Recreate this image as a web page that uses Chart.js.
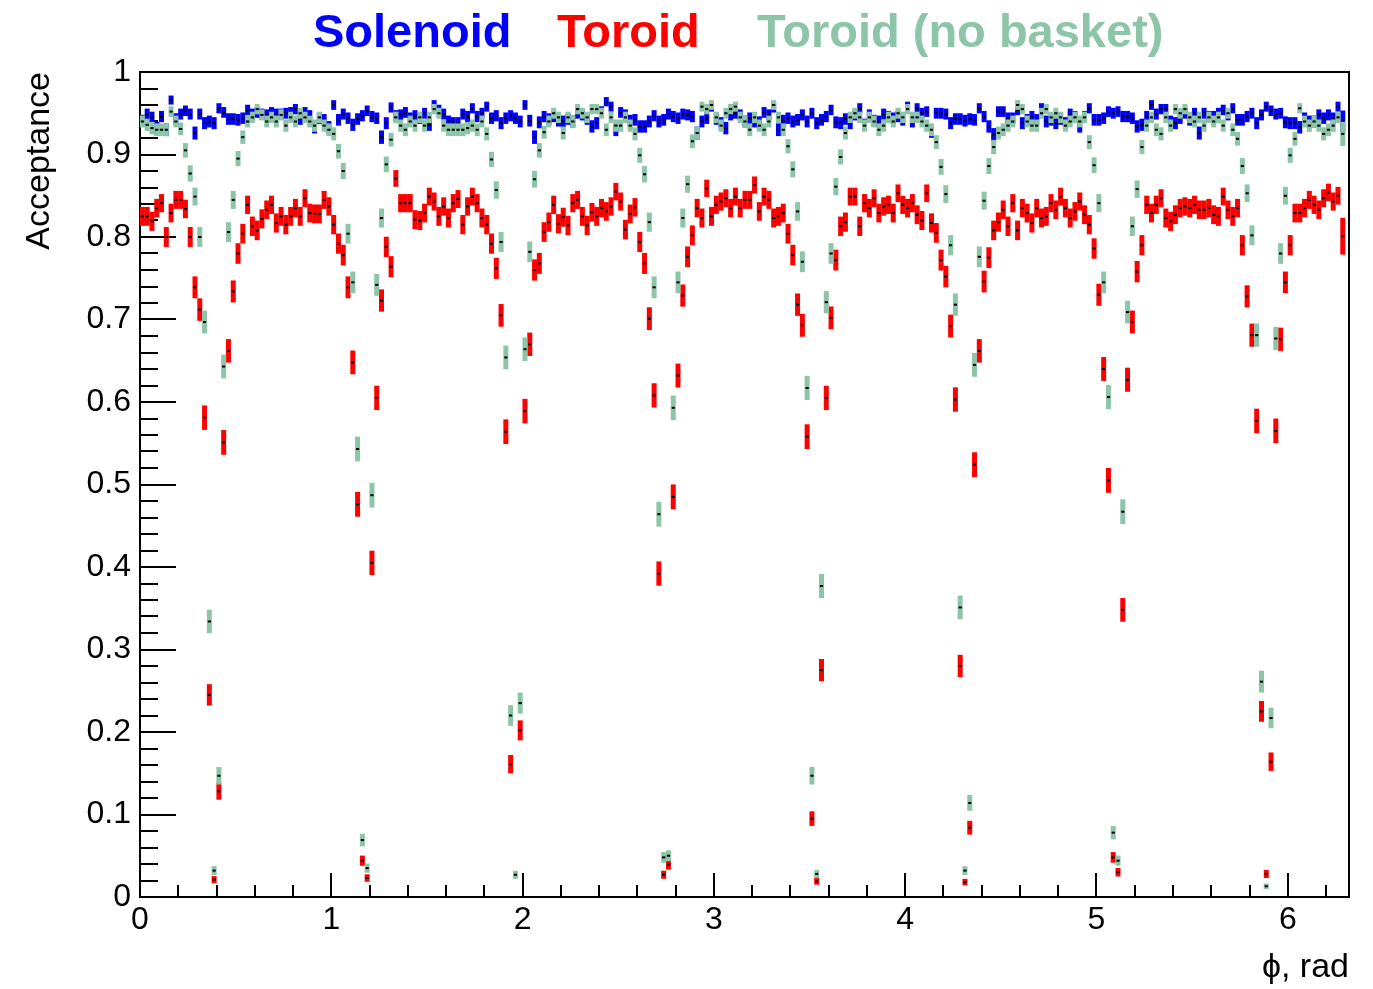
<!DOCTYPE html>
<html>
<head>
<meta charset="utf-8">
<title>Acceptance</title>
<script src="https://cdn.jsdelivr.net/npm/chart.js@4.4.1/dist/chart.umd.min.js"></script>
<style>
	html, body { margin: 0; padding: 0; background: #fff; }
	#caixa { width: 1373px; height: 989px; }
</style>
</head>
<body>
<div id="caixa"><canvas id="grafico"></canvas></div>
<script>
// phi bins, 0.025 rad wide starting at 0
larguraBin = 0.025
eventosPorBin = 1100
eventosUltimoBin = 320

solenoid = [
	0.941, 0.949, 0.945, 0.932, 0.946, 0.930, 0.966, 0.943, 0.949, 0.953,
	0.949, 0.926, 0.949, 0.938, 0.940, 0.938, 0.956, 0.951, 0.943, 0.943,
	0.942, 0.944, 0.954, 0.949, 0.951, 0.949, 0.948, 0.951, 0.949, 0.949,
	0.950, 0.951, 0.955, 0.943, 0.951, 0.947, 0.933, 0.944, 0.942, 0.933,
	0.960, 0.942, 0.949, 0.944, 0.936, 0.943, 0.947, 0.953, 0.946, 0.944,
	0.921, 0.938, 0.957, 0.947, 0.948, 0.951, 0.944, 0.947, 0.944, 0.950,
	0.936, 0.960, 0.954, 0.949, 0.940, 0.938, 0.938, 0.949, 0.946, 0.956,
	0.946, 0.950, 0.958, 0.944, 0.947, 0.938, 0.944, 0.947, 0.944, 0.940,
	0.960, 0.941, 0.921, 0.939, 0.946, 0.943, 0.946, 0.941, 0.940, 0.943,
	0.940, 0.950, 0.948, 0.943, 0.934, 0.938, 0.952, 0.964, 0.958, 0.930,
	0.951, 0.948, 0.941, 0.942, 0.934, 0.934, 0.940, 0.947, 0.940, 0.942,
	0.949, 0.946, 0.944, 0.949, 0.948, 0.946, 0.926, 0.940, 0.944, 0.958,
	0.943, 0.938, 0.932, 0.948, 0.950, 0.948, 0.940, 0.944, 0.940, 0.939,
	0.951, 0.948, 0.957, 0.930, 0.941, 0.944, 0.940, 0.942, 0.948, 0.940,
	0.950, 0.938, 0.942, 0.946, 0.954, 0.939, 0.938, 0.943, 0.938, 0.948,
	0.956, 0.936, 0.948, 0.941, 0.940, 0.949, 0.946, 0.944, 0.946, 0.942,
	0.958, 0.940, 0.956, 0.950, 0.952, 0.928, 0.950, 0.950, 0.949, 0.938,
	0.943, 0.943, 0.941, 0.943, 0.942, 0.956, 0.946, 0.934, 0.924, 0.952,
	0.952, 0.944, 0.944, 0.954, 0.938, 0.942, 0.946, 0.942, 0.956, 0.940,
	0.942, 0.938, 0.943, 0.938, 0.949, 0.946, 0.934, 0.946, 0.956, 0.942,
	0.942, 0.944, 0.952, 0.950, 0.952, 0.946, 0.946, 0.944, 0.934, 0.936,
	0.946, 0.960, 0.949, 0.955, 0.955, 0.940, 0.938, 0.944, 0.950, 0.942,
	0.950, 0.926, 0.950, 0.946, 0.946, 0.950, 0.954, 0.948, 0.956, 0.942,
	0.942, 0.946, 0.950, 0.938, 0.948, 0.958, 0.953, 0.949, 0.950, 0.939,
	0.938, 0.938, 0.933, 0.944, 0.940, 0.940, 0.948, 0.944, 0.948, 0.944,
	0.958, 0.940
]

toroid = [
	0.825, 0.825, 0.819, 0.835, 0.841, 0.800, 0.829, 0.845, 0.845, 0.834,
	0.800, 0.739, 0.712, 0.581, 0.245, 0.021, 0.128, 0.551, 0.662, 0.734,
	0.780, 0.804, 0.839, 0.813, 0.808, 0.822, 0.833, 0.839, 0.817, 0.825,
	0.815, 0.825, 0.835, 0.825, 0.847, 0.829, 0.828, 0.828, 0.845, 0.837,
	0.815, 0.792, 0.778, 0.739, 0.648, 0.476, 0.044, 0.023, 0.405, 0.605,
	0.723, 0.788, 0.764, 0.871, 0.841, 0.841, 0.841, 0.821, 0.820, 0.829,
	0.849, 0.843, 0.825, 0.837, 0.823, 0.841, 0.846, 0.815, 0.837, 0.849,
	0.841, 0.823, 0.815, 0.792, 0.762, 0.705, 0.564, 0.161, 0.000, 0.202,
	0.589, 0.670, 0.760, 0.768, 0.806, 0.818, 0.839, 0.816, 0.824, 0.814,
	0.841, 0.845, 0.825, 0.814, 0.830, 0.825, 0.835, 0.831, 0.837, 0.855,
	0.843, 0.809, 0.828, 0.836, 0.794, 0.768, 0.701, 0.608, 0.392, 0.027,
	0.039, 0.485, 0.632, 0.729, 0.776, 0.802, 0.835, 0.823, 0.859, 0.825,
	0.839, 0.843, 0.847, 0.835, 0.849, 0.835, 0.845, 0.845, 0.863, 0.831,
	0.849, 0.845, 0.823, 0.825, 0.829, 0.804, 0.778, 0.718, 0.693, 0.558,
	0.095, 0.019, 0.275, 0.605, 0.702, 0.772, 0.813, 0.818, 0.849, 0.849,
	0.813, 0.841, 0.835, 0.847, 0.829, 0.837, 0.839, 0.829, 0.853, 0.839,
	0.835, 0.841, 0.827, 0.820, 0.853, 0.817, 0.805, 0.772, 0.752, 0.692,
	0.603, 0.280, 0.018, 0.084, 0.524, 0.662, 0.746, 0.775, 0.808, 0.818,
	0.833, 0.813, 0.841, 0.808, 0.835, 0.829, 0.817, 0.835, 0.823, 0.825,
	0.841, 0.833, 0.849, 0.835, 0.823, 0.831, 0.843, 0.827, 0.815, 0.786,
	0.730, 0.640, 0.505, 0.048, 0.030, 0.348, 0.627, 0.697, 0.758, 0.790,
	0.839, 0.829, 0.839, 0.847, 0.823, 0.819, 0.827, 0.835, 0.837, 0.835,
	0.839, 0.833, 0.833, 0.835, 0.827, 0.825, 0.849, 0.833, 0.825, 0.835,
	0.790, 0.728, 0.681, 0.577, 0.225, 0.028, 0.164, 0.565, 0.676, 0.745,
	0.790, 0.829, 0.829, 0.835, 0.845, 0.839, 0.833, 0.847, 0.854, 0.843,
	0.850, 0.801
]

toroidSemCesto = [
	0.940, 0.936, 0.932, 0.930, 0.930, 0.930, 0.952, 0.940, 0.931, 0.905,
	0.877, 0.849, 0.800, 0.697, 0.334, 0.032, 0.147, 0.643, 0.806, 0.845,
	0.895, 0.921, 0.940, 0.945, 0.955, 0.948, 0.940, 0.945, 0.940, 0.948,
	0.935, 0.945, 0.940, 0.950, 0.945, 0.940, 0.935, 0.945, 0.935, 0.930,
	0.925, 0.904, 0.880, 0.804, 0.745, 0.543, 0.069, 0.035, 0.487, 0.742,
	0.823, 0.888, 0.918, 0.945, 0.935, 0.930, 0.940, 0.935, 0.945, 0.935,
	0.945, 0.955, 0.950, 0.935, 0.930, 0.930, 0.930, 0.930, 0.932, 0.935,
	0.930, 0.940, 0.925, 0.894, 0.857, 0.794, 0.654, 0.220, 0.027, 0.235,
	0.664, 0.782, 0.870, 0.905, 0.927, 0.940, 0.950, 0.945, 0.926, 0.945,
	0.940, 0.955, 0.950, 0.945, 0.955, 0.955, 0.950, 0.930, 0.945, 0.935,
	0.935, 0.945, 0.935, 0.925, 0.899, 0.876, 0.818, 0.739, 0.464, 0.048,
	0.050, 0.593, 0.745, 0.823, 0.864, 0.916, 0.926, 0.958, 0.955, 0.960,
	0.945, 0.935, 0.950, 0.955, 0.958, 0.945, 0.940, 0.930, 0.945, 0.935,
	0.930, 0.940, 0.960, 0.945, 0.930, 0.910, 0.882, 0.831, 0.770, 0.617,
	0.147, 0.028, 0.377, 0.721, 0.780, 0.861, 0.897, 0.926, 0.945, 0.950,
	0.945, 0.935, 0.945, 0.940, 0.930, 0.935, 0.945, 0.940, 0.950, 0.945,
	0.955, 0.945, 0.945, 0.940, 0.935, 0.930, 0.915, 0.885, 0.852, 0.790,
	0.718, 0.351, 0.032, 0.114, 0.645, 0.776, 0.844, 0.886, 0.909, 0.926,
	0.930, 0.935, 0.940, 0.960, 0.955, 0.940, 0.935, 0.935, 0.950, 0.955,
	0.945, 0.950, 0.945, 0.935, 0.940, 0.945, 0.940, 0.945, 0.915, 0.887,
	0.841, 0.745, 0.606, 0.078, 0.044, 0.467, 0.709, 0.813, 0.858, 0.909,
	0.935, 0.945, 0.930, 0.925, 0.945, 0.935, 0.955, 0.950, 0.955, 0.945,
	0.940, 0.945, 0.935, 0.945, 0.940, 0.945, 0.935, 0.950, 0.930, 0.919,
	0.886, 0.853, 0.802, 0.681, 0.261, 0.013, 0.217, 0.677, 0.780, 0.850,
	0.899, 0.919, 0.956, 0.940, 0.935, 0.940, 0.935, 0.925, 0.930, 0.935,
	0.945, 0.925
]

ticksX = [0, 1, 2, 3, 4, 5, 6]
ticksY = [0, 0.1, 0.2, 0.3, 0.4, 0.5, 0.6, 0.7, 0.8, 0.9, 1]

azul = '#0000ff'
vermelho = '#ff0000'
verde = '#8cc5a7'
fonte = '"Liberation Sans", Arial, Helvetica, sans-serif'

function montaPontos(valores) {
	return valores.map((v, i) => ({ x: larguraBin * (i + 0.5), y: v }))
}

function montaErros(valores) {
	return valores.map((v, i) => {
		n = i == valores.length - 1 ? eventosUltimoBin : eventosPorBin
		return Math.sqrt(v * (1 - v) / n)
	})
}

// vertical error bars drawn under the markers of each dataset
barrasDeErro = {
	id: 'barrasDeErro',
	beforeDatasetDraw(chart, args) {
		ctx = chart.ctx
		ds = chart.data.datasets[args.index]
		escalaY = chart.scales.y
		ctx.save()
		ctx.fillStyle = ds.corBarra
		args.meta.data.forEach((ponto, i) => {
			v = ds.data[i].y
			e = ds.erros[i]
			if (e <= 0) return
			topo = escalaY.getPixelForValue(v + e)
			base = escalaY.getPixelForValue(v - e)
			ctx.fillRect(ponto.x - 2.5, topo, 5, Math.max(base - topo, 4))
		})
		ctx.restore()
	}
}

// ROOT-like frame with inward ticks
moldura = {
	id: 'moldura',
	beforeDatasetsDraw(chart) {
		ctx = chart.ctx
		a = chart.chartArea
		sx = chart.scales.x
		sy = chart.scales.y
		ctx.save()
		ctx.strokeStyle = '#000'
		ctx.lineWidth = 2
		ctx.beginPath()
		for (i = 0; i <= 31; i++) {
			px = Math.round(sx.getPixelForValue(i * 0.2))
			comp = i % 5 == 0 ? 24 : 12
			ctx.moveTo(px, a.bottom)
			ctx.lineTo(px, a.bottom - comp)
		}
		for (i = 0; i <= 50; i++) {
			py = Math.round(sy.getPixelForValue(i * 0.02))
			comp = i % 5 == 0 ? 36 : 18
			ctx.moveTo(a.left, py)
			ctx.lineTo(a.left + comp, py)
		}
		ctx.stroke()
		ctx.strokeRect(a.left, a.top, a.right - a.left, a.bottom - a.top)
		ctx.restore()
	},
	afterDraw(chart) {
		ctx = chart.ctx
		a = chart.chartArea
		ctx.save()
		ctx.textBaseline = 'alphabetic'
		ctx.textAlign = 'left'
		ctx.font = 'bold 47px ' + fonte
		ctx.fillStyle = azul
		ctx.fillText('Solenoid', 313, 47)
		ctx.fillStyle = vermelho
		ctx.fillText('Toroid', 557, 47)
		ctx.fillStyle = verde
		ctx.fillText('Toroid (no basket)', 757, 47)

		ctx.fillStyle = '#000'
		ctx.font = '34px ' + fonte
		ctx.textAlign = 'right'
		ctx.fillText('\u03d5, rad', a.right, 977)

		ctx.translate(49, a.top)
		ctx.rotate(-Math.PI / 2)
		ctx.fillText('Acceptance', 0, 0)
		ctx.restore()
	}
}

function geraGrafico() {
	config = {
		type: 'scatter',
		data: {
			datasets: [
				{ label: 'Toroid (no basket)', data: montaPontos(toroidSemCesto), erros: montaErros(toroidSemCesto), corBarra: verde },
				{ label: 'Toroid', data: montaPontos(toroid), erros: montaErros(toroid), corBarra: vermelho },
				{ label: 'Solenoid', data: montaPontos(solenoid), erros: montaErros(solenoid), corBarra: azul }
			]
		},
		options: {
			responsive: true,
			maintainAspectRatio: false,
			animation: false,
			events: [],
			layout: { padding: { top: 72, right: 24, left: 0, bottom: 0 } },
			elements: {
				point: { pointStyle: 'line', radius: 1.6, borderWidth: 2, borderColor: '#000', backgroundColor: '#000' }
			},
			plugins: {
				legend: { display: false },
				title: { display: false },
				tooltip: { enabled: false }
			},
			scales: {
				x: {
					type: 'linear',
					min: 0,
					max: 6.32,
					grid: { display: false, drawTicks: false },
					border: { display: false },
					afterFit: (s) => { s.height = 92 },
					afterBuildTicks: (s) => { s.ticks = ticksX.map(v => ({ value: v })) },
					ticks: {
						font: { family: fonte, size: 32 },
						color: '#000',
						padding: 4,
						maxRotation: 0,
						autoSkip: false,
						callback: (v) => String(v)
					}
				},
				y: {
					min: 0,
					max: 1,
					grid: { display: false, drawTicks: false },
					border: { display: false },
					afterFit: (s) => { s.width = 140 },
					afterBuildTicks: (s) => { s.ticks = ticksY.map(v => ({ value: v })) },
					ticks: {
						font: { family: fonte, size: 32 },
						color: '#000',
						padding: 9,
						autoSkip: false,
						callback: (v) => String(+v.toFixed(1))
					}
				}
			}
		},
		plugins: [moldura, barrasDeErro]
	}
	ctx0 = document.getElementById('grafico').getContext('2d')
	window.grafico = new Chart(ctx0, config)
}

geraGrafico()
</script>
</body>
</html>
